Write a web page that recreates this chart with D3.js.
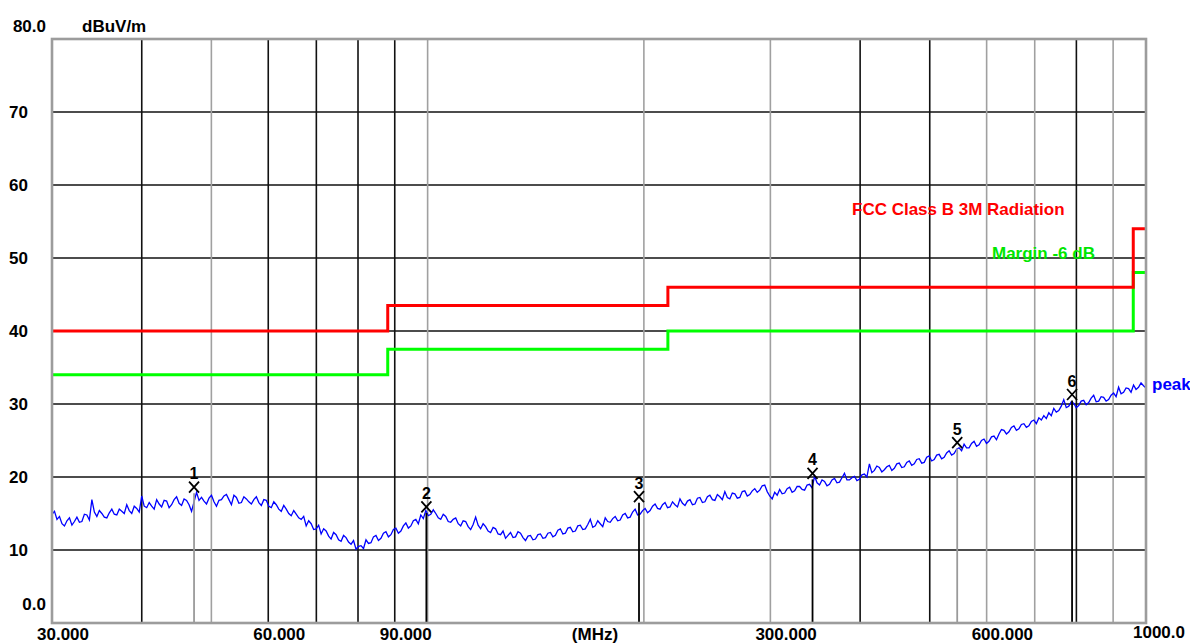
<!DOCTYPE html>
<html>
<head>
<meta charset="utf-8">
<script src="https://cdn.jsdelivr.net/npm/d3@7"></script>
<style>
  html, body { margin: 0; padding: 0; background: #fff; }
  svg { display: block; font-family: "Liberation Sans", Arial, sans-serif; }
</style>
</head>
<body>
<div id="chart"></div>
<script>
// ── Data ──────────────────────────────────────────────────────────────

const FREQ_START = 30;
const FREQ_STOP = 1000;

const yTicks = [10, 20, 30, 40, 50, 60, 70];
const yEndLabels = [{ v: 80, t: '80.0' }, { v: 0, t: '0.0' }];

const xLabelValues = [30, 60, 90, 300, 600, 1000];
const xLabelTexts = ['30.000', '60.000', '90.000', '300.000', '600.000', '1000.0'];

const gridDark = [40, 60, 70, 80, 90, 400, 500, 800];
const gridLight = [50, 100, 200, 300, 600, 700, 900];

// FCC Class B 3m limit and -6 dB margin (step lines)
const limitFreq = [30, 88, 88, 216, 216, 960, 960, 1000];
const limitFcc = [40, 40, 43.5, 43.5, 46, 46, 54, 54];
const limitMargin = [34, 34, 37.5, 37.5, 40, 40, 48, 48];

// peak trace (sweep points spaced evenly on the log axis)
const peakDb = [
  14.9, 15.3, 14.2, 14.6, 13.6, 13.3, 14.0, 14.4, 13.4, 13.9, 14.5, 13.8, 13.9, 14.9, 14.8, 14.1, 16.9, 15.2, 14.6, 15.4,
  15.0, 14.5, 14.4, 15.1, 15.6, 14.9, 14.8, 15.6, 15.3, 15.0, 16.2, 15.4, 15.0, 16.0, 15.7, 15.2, 17.4, 16.0, 15.8, 16.5,
  16.0, 15.6, 16.9, 16.3, 15.9, 16.8, 16.7, 15.8, 16.2, 16.9, 17.3, 16.4, 16.1, 17.0, 16.8, 16.2, 15.3, 16.6, 17.9, 16.8,
  17.2, 16.7, 16.3, 17.1, 17.5, 16.6, 16.0, 16.8, 16.9, 17.4, 17.6, 16.9, 16.2, 17.5, 17.2, 16.4, 16.5, 17.3, 17.0, 16.6,
  16.3, 16.9, 17.3, 16.5, 16.1, 16.9, 16.8, 16.0, 15.8, 16.6, 16.2, 15.6, 15.3, 16.1, 15.6, 15.0, 14.7, 15.4, 14.9, 14.4,
  14.2, 14.6, 13.3, 14.0, 13.6, 12.8, 12.9, 13.4, 12.2, 12.9, 12.6, 11.9, 11.5, 12.4, 12.1, 11.4, 11.2, 12.0, 11.7, 11.1,
  10.8, 11.3, 10.1, 10.5, 10.6, 10.2, 11.4, 10.9, 11.0, 11.8, 12.0, 11.3, 11.6, 12.3, 12.5, 11.8, 12.1, 12.8, 13.0, 12.3,
  12.6, 13.3, 13.7, 13.0, 13.3, 14.0, 14.2, 13.6, 14.8, 14.3, 15.4, 14.7, 14.9, 15.5, 15.0, 14.4, 14.2, 14.9, 14.6, 13.9,
  13.8, 14.2, 14.4, 13.6, 13.3, 14.0, 13.9, 13.2, 12.8, 13.5, 14.5, 13.4, 12.9, 13.6, 13.2, 12.6, 12.4, 13.1, 12.9, 12.2,
  12.1, 12.6, 11.6, 12.0, 12.4, 11.7, 11.8, 12.5, 12.3, 11.7, 11.3, 11.9, 12.0, 11.4, 11.5, 12.1, 12.2, 11.6, 11.7, 12.3,
  12.4, 11.8, 12.0, 12.7, 12.9, 12.2, 12.3, 13.0, 13.1, 12.5, 12.6, 13.3, 13.4, 12.8, 12.9, 13.5, 14.2, 13.1, 13.3, 14.0,
  13.6, 13.2, 14.4, 13.9, 13.8, 14.3, 14.6, 14.0, 14.1, 14.8, 15.0, 14.4, 14.5, 15.2, 15.6, 14.8, 14.9, 15.4, 15.7, 15.1,
  15.4, 16.0, 16.3, 15.7, 15.6, 16.2, 16.5, 15.8, 15.9, 16.6, 16.2, 15.9, 17.0, 16.4, 16.1, 16.7, 16.9, 16.2, 16.3, 17.1,
  17.2, 16.5, 16.6, 17.3, 17.5, 16.9, 16.8, 17.6, 17.3, 16.9, 18.0, 17.2, 17.0, 17.8, 17.7, 17.1, 17.2, 18.0, 18.1, 17.4,
  17.6, 18.1, 18.4, 17.9, 18.2, 18.8, 18.9, 18.0, 17.4, 17.0, 17.9, 17.5, 18.3, 17.7, 17.8, 18.4, 18.6, 17.9, 18.1, 18.7,
  18.7, 18.3, 18.2, 18.9, 19.0, 18.5, 20.1, 19.2, 18.9, 19.6, 19.4, 18.8, 19.0, 19.6, 19.8, 19.2, 19.3, 19.9, 20.5, 19.6,
  19.6, 19.9, 20.1, 19.5, 19.7, 20.3, 20.4, 20.0, 21.8, 20.6, 20.9, 21.5, 21.3, 20.7, 21.0, 21.4, 21.6, 20.9, 21.2, 21.8,
  21.9, 21.3, 21.4, 22.0, 22.2, 21.6, 21.8, 22.4, 22.5, 21.9, 22.0, 22.7, 22.9, 22.2, 22.4, 23.0, 23.1, 22.5, 22.7, 23.3,
  23.6, 23.0, 23.2, 23.8, 24.0, 23.6, 24.5, 24.0, 24.0, 24.6, 24.9, 24.2, 24.4, 25.0, 25.2, 24.6, 24.9, 25.5, 25.6, 25.1,
  25.9, 26.5, 26.4, 25.9, 26.2, 26.8, 27.0, 26.4, 26.6, 27.2, 27.3, 26.8, 27.0, 27.6, 27.8, 27.3, 28.1, 27.8, 28.4, 28.0,
  28.8, 28.4, 29.4, 28.9, 29.1, 29.7, 30.6, 29.5, 29.7, 30.3, 30.1, 29.5, 29.8, 30.4, 30.5, 29.9, 30.2, 30.8, 31.2, 30.3,
  30.4, 31.0, 30.9, 30.4, 30.6, 31.2, 31.5, 31.0, 32.3, 31.4, 31.6, 32.2, 32.1, 31.6, 32.6, 32.0, 32.3, 32.9, 32.5, 32.2
];

const markerNo = [1, 2, 3, 4, 5, 6];
const markerFreq = [47.3, 99.6, 196.9, 343.4, 546.0, 789.0];
const markerLevel = [18.6, 15.9, 17.3, 20.5, 24.7, 31.3];
const markerTone = ['#9a9a9a', '#000', '#000', '#000', '#9a9a9a', '#000'];

// ── Layout ────────────────────────────────────────────────────────────

const W = 1190, H = 643;
const PLOT = { left: 52, right: 1146, top: 39, bottom: 623 };
const FONT = 17;

const x = d3.scaleLog().domain([FREQ_START, FREQ_STOP]).range([PLOT.left, PLOT.right]);
const y = d3.scaleLinear().domain([0, 80]).range([PLOT.bottom, PLOT.top]);

const svg = d3.select('#chart').append('svg')
  .attr('width', W)
  .attr('height', H);

// ── Grid ──────────────────────────────────────────────────────────────

const grid = svg.append('g');

grid.selectAll('.hgrid')
  .data(yTicks)
  .join('line')
  .attr('x1', PLOT.left).attr('x2', PLOT.right)
  .attr('y1', d => y(d)).attr('y2', d => y(d))
  .attr('stroke', '#111').attr('stroke-width', 1.6);

grid.selectAll('.vlight')
  .data(gridLight)
  .join('line')
  .attr('x1', d => x(d)).attr('x2', d => x(d))
  .attr('y1', PLOT.top).attr('y2', PLOT.bottom)
  .attr('stroke', '#a0a0a0').attr('stroke-width', 1.6);

grid.selectAll('.vdark')
  .data(gridDark)
  .join('line')
  .attr('x1', d => x(d)).attr('x2', d => x(d))
  .attr('y1', PLOT.top).attr('y2', PLOT.bottom)
  .attr('stroke', '#111').attr('stroke-width', 1.6);

// ── Limit lines ───────────────────────────────────────────────────────

const stepLine = d3.line().x(d => x(d[0])).y(d => y(d[1]));

svg.append('path')
  .attr('d', stepLine(limitFreq.map((f, i) => [f, limitMargin[i]])))
  .attr('fill', 'none').attr('stroke', '#00ff00').attr('stroke-width', 3);

svg.append('path')
  .attr('d', stepLine(limitFreq.map((f, i) => [f, limitFcc[i]])))
  .attr('fill', 'none').attr('stroke', '#ff0000').attr('stroke-width', 3);

// ── Peak trace ────────────────────────────────────────────────────────

const n = peakDb.length;
const traceFreq = d3.range(n).map(i => FREQ_START * Math.pow(FREQ_STOP / FREQ_START, i / (n - 1)));

svg.append('path')
  .attr('d', d3.line().x((d, i) => x(traceFreq[i])).y(d => y(d))(peakDb))
  .attr('fill', 'none').attr('stroke', '#0000ff').attr('stroke-width', 1.3);

// ── Markers ───────────────────────────────────────────────────────────

const markers = markerNo.map((no, i) => ({ no, f: markerFreq[i], v: markerLevel[i], tone: markerTone[i] }));

const mk = svg.selectAll('.marker')
  .data(markers)
  .join('g')
  .attr('transform', d => `translate(${x(d.f)},${y(d.v)})`);

mk.append('line')
  .attr('x1', 0).attr('x2', 0)
  .attr('y1', 6).attr('y2', d => PLOT.bottom - y(d.v))
  .attr('stroke', d => d.tone).attr('stroke-width', 1.8);

mk.append('path')
  .attr('d', 'M-5,-5.5L5,5.5M5,-5.5L-5,5.5')
  .attr('stroke', '#000').attr('stroke-width', 1.8);

mk.append('text')
  .attr('y', -8)
  .attr('text-anchor', 'middle')
  .attr('font-size', 16)
  .attr('font-weight', 'bold')
  .text(d => d.no);

// ── Frame ─────────────────────────────────────────────────────────────

svg.append('rect')
  .attr('x', PLOT.left).attr('y', PLOT.top)
  .attr('width', PLOT.right - PLOT.left).attr('height', PLOT.bottom - PLOT.top)
  .attr('fill', 'none').attr('stroke', '#9c9c9c').attr('stroke-width', 2.6);

// ── Labels ────────────────────────────────────────────────────────────

const labels = svg.append('g')
  .attr('font-size', FONT)
  .attr('font-weight', 'bold')
  .attr('fill', '#000');

labels.selectAll('.ylab')
  .data(yTicks)
  .join('text')
  .attr('x', 9)
  .attr('y', d => y(d) + 6)
  .text(d => d);

labels.selectAll('.yend')
  .data(yEndLabels)
  .join('text')
  .attr('x', 46)
  .attr('text-anchor', 'end')
  .attr('y', d => y(d.v) + (d.v === 80 ? -7 : -13))
  .text(d => d.t);

labels.append('text')
  .attr('x', 82).attr('y', 32)
  .text('dBuV/m');

labels.selectAll('.xlab')
  .data(xLabelValues)
  .join('text')
  .attr('x', d => (d === FREQ_STOP ? x(d) - 13 : x(d) - 15))
  .attr('y', d => (d === FREQ_STOP ? 638 : 640))
  .text((d, i) => xLabelTexts[i]);

labels.append('text')
  .attr('x', 595).attr('y', 640)
  .attr('text-anchor', 'middle')
  .text('(MHz)');

labels.append('text')
  .attr('x', 852).attr('y', 215)
  .attr('fill', '#ff0000')
  .text('FCC Class B 3M Radiation');

labels.append('text')
  .attr('x', 992).attr('y', 259)
  .attr('fill', '#00e600')
  .text('Margin -6 dB');

labels.append('text')
  .attr('x', 1152).attr('y', 390)
  .attr('fill', '#0000ff')
  .text('peak');
</script>
</body>
</html>
